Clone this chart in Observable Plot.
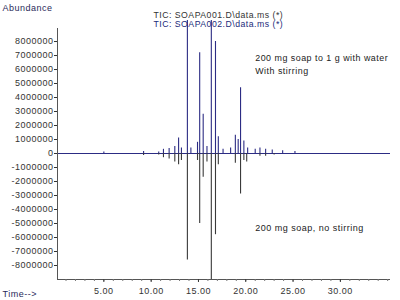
<!DOCTYPE html>
<html><head><meta charset="utf-8">
<script src="https://cdn.jsdelivr.net/npm/d3@7"></script>
<script src="https://cdn.jsdelivr.net/npm/@observablehq/plot@0.6"></script>
<style>
body{margin:0;background:#fff}
#chart svg text{letter-spacing:0.5px}
</style>
</head><body><div id="chart"></div>
<script>
// Upper trace: SOAPA002 (200 mg soap to 1 g with water, with stirring)
const upTimes   = [5.0, 9.2, 10.8, 11.3, 11.9, 12.5, 12.9, 13.2, 13.83, 14.2, 14.9, 15.13, 15.5, 15.9, 16.36, 16.8, 17.1, 17.6, 18.4, 18.9, 19.2, 19.45, 19.8, 20.2, 21.0, 21.5, 22.1, 22.8, 23.9, 25.2];
const upValues  = [0.1e6, 0.15e6, 0.1e6, 0.3e6, 0.35e6, 0.5e6, 1.1e6, 0.4e6, 9.5e6, 0.4e6, 0.8e6, 7.2e6, 2.8e6, 0.5e6, 9.5e6, 8.0e6, 1.2e6, 0.3e6, 0.4e6, 1.3e6, 1.0e6, 4.7e6, 0.9e6, 0.4e6, 0.3e6, 0.4e6, 0.3e6, 0.25e6, 0.2e6, 0.15e6];
// Lower (mirrored) trace: SOAPA001 (200 mg soap, no stirring)
const downTimes  = [9.2, 10.8, 11.3, 11.9, 12.5, 12.9, 13.2, 13.83, 14.9, 15.13, 15.5, 15.9, 16.36, 16.8, 17.1, 18.9, 19.45, 19.8, 20.1, 21.5, 22.1, 23.0];
const downValues = [-0.15e6, -0.1e6, -0.3e6, -0.4e6, -0.6e6, -0.8e6, -0.5e6, -7.6e6, -0.5e6, -5.0e6, -1.7e6, -0.6e6, -9.0e6, -5.8e6, -0.8e6, -0.7e6, -2.9e6, -0.5e6, -0.6e6, -0.2e6, -0.2e6, -0.1e6];

const yTicks = [-8000000,-7000000,-6000000,-5000000,-4000000,-3000000,-2000000,-1000000,0,1000000,2000000,3000000,4000000,5000000,6000000,7000000,8000000];
const xTicks = [5, 10, 15, 20, 25, 30];
const xMinor = [1,2,3,4,5,6,7,8,9,10,11,12,13,14,15,16,17,18,19,20,21,22,23,24,25,26,27,28,29,30,31,32,33,34,35];
const legend1 = "TIC: SOAPA001.D\\data.ms (*)";
const legend2 = "TIC: SOAPA002.D\\data.ms (*)";
const noteUp1 = "200 mg soap to 1 g with water";
const noteUp2 = "With stirring";
const noteDown = "200 mg soap, no stirring";

const xDomain = [0.1, 35.3];
const yDomain = [-9.0e6, 8.93e6];

const up = upTimes.map((t, i) => ({t, v: upValues[i]}));
const down = downTimes.map((t, i) => ({t, v: downValues[i]}));

const navy = "#2c2c84";
const dark = "#3a3a3a";

const chart = Plot.plot({
  width: 400, height: 300,
  marginLeft: 57, marginRight: 10, marginTop: 28, marginBottom: 21,
  style: {fontFamily: "Liberation Sans, Arial, sans-serif", fontSize: "9px", color: "#333", background: "#fff"},
  x: {domain: xDomain, axis: null},
  y: {domain: yDomain, axis: null},
  marks: [
    Plot.ruleY([0], {stroke: navy, strokeWidth: 1}),
    Plot.ruleX(down, {x: "t", y1: 0, y2: "v", stroke: dark, strokeWidth: 1.1}),
    Plot.ruleX(up, {x: "t", y1: 0, y2: "v", stroke: navy, strokeWidth: 1.1}),
    Plot.ruleX([xDomain[0]], {stroke: "#555"}),
    Plot.ruleY([yDomain[0]], {stroke: "#555"}),
    Plot.axisY(yTicks, {tickSize: 3, tickPadding: 1, tickFormat: d => String(d), fontSize: 9, fill: "#333", label: null}),
    Plot.axisX(xMinor, {tickSize: 2, tickFormat: () => "", stroke: "#777", label: null}),
    Plot.axisX(xTicks, {tickSize: 3, tickPadding: 5, tickFormat: d => d.toFixed(2), fontSize: 9, fill: "#333", label: null}),
    Plot.text([legend1], {frameAnchor: "top-left", dx: 96, dy: -17, textAnchor: "start", fill: "#333", fontSize: 8.7}),
    Plot.text([legend2], {frameAnchor: "top-left", dx: 96, dy: -8, textAnchor: "start", fill: "#222a7a", fontSize: 8.7}),
    Plot.text([noteUp1], {x: 21.0, y: 6.8e6, textAnchor: "start", fill: "#222", fontSize: 8.9}),
    Plot.text([noteUp2], {x: 21.0, y: 5.86e6, textAnchor: "start", fill: "#222", fontSize: 8.9}),
    Plot.text([noteDown], {x: 21.0, y: -5.36e6, textAnchor: "start", fill: "#222", fontSize: 9}),
    Plot.text(["Abundance"], {frameAnchor: "top-left", dx: -55, dy: -24, textAnchor: "start", fill: "#2a2a5a", fontSize: 9}),
    Plot.text(["Time-->"], {frameAnchor: "bottom-left", dx: -55, dy: 17, textAnchor: "start", fill: "#2a2a5a", fontSize: 9})
  ]
});
document.getElementById("chart").appendChild(chart);
</script>
</body></html>
